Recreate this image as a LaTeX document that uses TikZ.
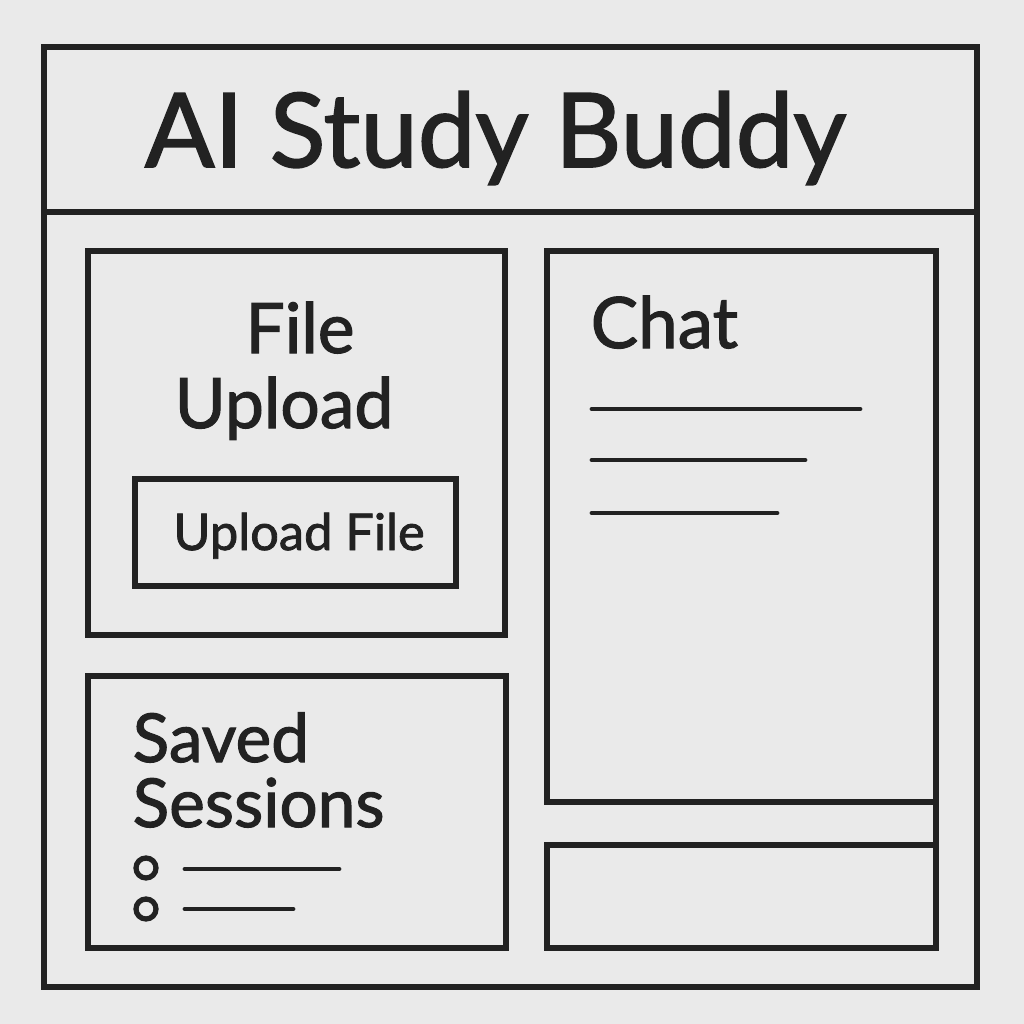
\documentclass[tikz,border=0pt]{standalone}
\usepackage{fontspec}
\setmainfont{Lato}[FakeBold=1.6]
\usepackage{tikz}
\definecolor{paper}{HTML}{EAEAEA}
\definecolor{ink}{HTML}{222222}
\tikzset{
  panel/.style={draw=ink, line width=1.5pt, rectangle, inner sep=0pt, outer sep=0pt},
  bar/.style={draw=ink, line width=1.4pt, line cap=round},
  lbl/.style={text=ink, inner sep=0pt, anchor=base}
}

\begin{document}
\begin{tikzpicture}
\fill[paper] (0,0) rectangle (10.24,-10.24);
\useasboundingbox (0,0) rectangle (10.24,-10.24);
% frame and header
\node[panel, minimum width=9.33cm, minimum height=9.40cm] (frame) at (5.105,-5.17) {};
\node[panel, minimum width=9.33cm, minimum height=1.65cm] (header) at (5.105,-1.295) {};
\node[lbl, font=\fontsize{29.3}{32}\selectfont] (title) at (4.955,-1.67) {AI Study Buddy};
% file upload
\node[panel, minimum width=4.17cm, minimum height=3.84cm] (upload) at (2.965,-4.43) {};
\node[lbl, font=\fontsize{19.8}{22}\selectfont] (filelbl) at (3.00,-3.53) {File};
\node[lbl, font=\fontsize{19.8}{22}\selectfont] (uploadlbl) at (2.84,-4.28) {Upload};
\node[panel, minimum width=3.21cm, minimum height=1.07cm] (button) at (2.955,-5.325) {};
\node[lbl, font=\fontsize{14.4}{16}\selectfont] (buttonlbl) at (2.99,-5.50) {Upload File};
% saved sessions
\node[panel, minimum width=4.18cm, minimum height=2.72cm] (sessions) at (2.97,-8.12) {};
\node[lbl, anchor=base west, font=\fontsize{19.2}{21}\selectfont] (savedlbl) at (1.32,-7.62) {Saved};
\node[lbl, anchor=base west, font=\fontsize{19.2}{21}\selectfont] (sessionslbl) at (1.32,-8.27) {Sessions};
\node[draw=ink, line width=1.5pt, circle, minimum size=0.2cm, inner sep=0pt] (dot1) at (1.46,-8.68) {};
\node[draw=ink, line width=1.5pt, circle, minimum size=0.2cm, inner sep=0pt] (dot2) at (1.46,-9.09) {};
\coordinate (s1a) at (1.85,-8.69);
\coordinate (s1b) at (3.39,-8.69);
\coordinate (s2a) at (1.85,-9.09);
\coordinate (s2b) at (2.93,-9.09);
\draw[bar] (s1a) -- (s1b);
\draw[bar] (s2a) -- (s2b);
% chat
\node[panel, minimum width=3.89cm, minimum height=5.51cm] (chat) at (7.415,-5.265) {};
\node[lbl, anchor=base west, font=\fontsize{20.2}{22}\selectfont] (chatlbl) at (5.90,-3.48) {Chat};
\coordinate (c1a) at (5.92,-4.09);
\coordinate (c1b) at (8.60,-4.09);
\coordinate (c2a) at (5.92,-4.60);
\coordinate (c2b) at (8.05,-4.60);
\coordinate (c3a) at (5.92,-5.13);
\coordinate (c3b) at (7.77,-5.13);
\draw[bar] (c1a) -- (c1b);
\draw[bar] (c2a) -- (c2b);
\draw[bar] (c3a) -- (c3b);
% message input
\node[panel, minimum width=3.89cm, minimum height=1.03cm] (input) at (7.415,-8.965) {};
\draw[draw=ink, line width=1.5pt] (chat.south east) -- (input.north east);
\end{tikzpicture}
\end{document}
